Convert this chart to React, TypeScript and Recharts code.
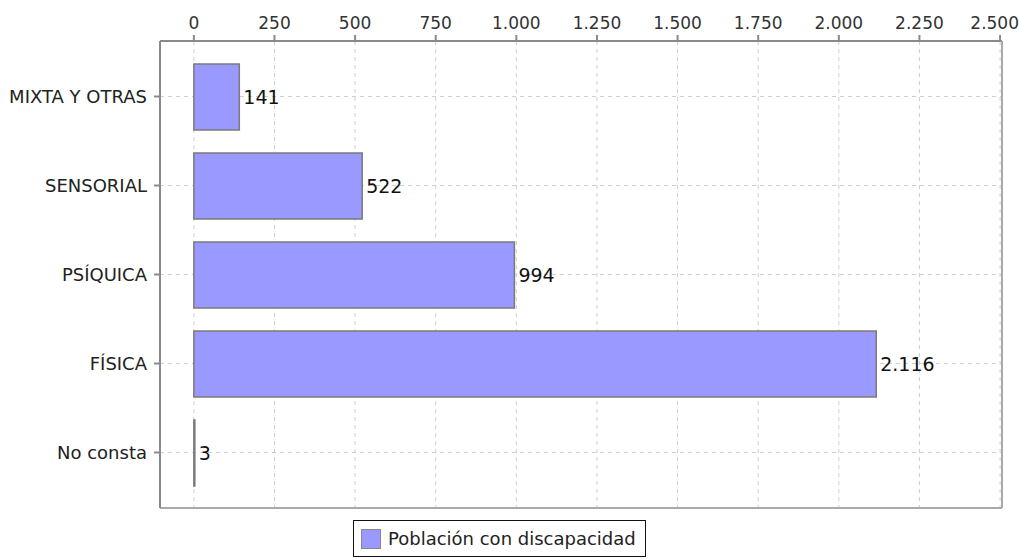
import React from "react";
import {
  BarChart,
  Bar,
  XAxis,
  YAxis,
  CartesianGrid,
  LabelList,
} from "recharts";

const categories = ["MIXTA Y OTRAS", "SENSORIAL", "PSÍQUICA", "FÍSICA", "No consta"];
const poblacion = [141, 522, 994, 2116, 3];
const xTicks = [0, 250, 500, 750, 1000, 1250, 1500, 1750, 2000, 2250, 2500];
const seriesName = "Población con discapacidad";

const data = categories.map((name, i) => ({ name, value: poblacion[i] }));

// thousands separator with a dot, like the original
const fmt = (v: number) => String(v).replace(/\B(?=(\d{3})+(?!\d))/g, ".");

const FONT = "'DejaVu Sans', sans-serif";

function LegendBox() {
  return (
    <div
      style={{
        position: "absolute",
        left: 353,
        top: 520,
        display: "flex",
        alignItems: "center",
        whiteSpace: "nowrap",
        border: "1.5px solid #111",
        padding: "0 8px 0 7px",
        height: 37,
        width: 293,
        boxSizing: "border-box",
        background: "#fff",
        fontFamily: FONT,
        fontSize: 18,
        color: "#222",
      }}
    >
      <span
        style={{
          width: 18,
          height: 18,
          background: "#9999ff",
          border: "1px solid #888",
          marginRight: 7,
          display: "inline-block",
          flex: "none",
        }}
      />
      {seriesName}
    </div>
  );
}

export default function App() {
  return (
    <div style={{ position: "absolute", left: 0, top: 0, width: 1019, height: 559, background: "#fff" }}>
      <BarChart
        width={1019}
        height={559}
        data={data}
        layout="vertical"
        margin={{ top: 0, right: 16, bottom: 50, left: 0 }}
        barSize={66}
      >
        <CartesianGrid stroke="#cfcfcf" strokeDasharray="4 4" />
        <XAxis
          type="number"
          orientation="top"
          domain={[-105, 2506]}
          ticks={xTicks}
          tickFormatter={fmt}
          allowDataOverflow
          height={41}
          stroke="#8a8a8a"
          strokeWidth={2}
          tickSize={6}
          tickMargin={6}
          tick={{ fill: "#333", fontSize: 17, fontFamily: FONT }}
        />
        <XAxis
          xAxisId="bottom"
          type="number"
          orientation="bottom"
          height={1}
          tick={false}
          tickLine={false}
          stroke="#aaaaaa"
          strokeWidth={2}
        />
        <YAxis
          type="category"
          dataKey="name"
          width={160}
          padding={{ top: 11, bottom: 11 }}
          stroke="#8a8a8a"
          strokeWidth={2}
          tickSize={6}
          tickMargin={7}
          tick={{ fill: "#222", fontSize: 18, fontFamily: FONT }}
        />
        <YAxis
          yAxisId="right"
          type="category"
          dataKey="name"
          orientation="right"
          width={1}
          tick={false}
          tickLine={false}
          stroke="#aaaaaa"
          strokeWidth={2}
        />
        <Bar
          dataKey="value"
          name={seriesName}
          fill="#9999ff"
          stroke="#7a7a7a"
          strokeWidth={1.5}
          isAnimationActive={false}
        >
          <LabelList
            dataKey="value"
            position="right"
            offset={4}
            formatter={(v: number) => fmt(v)}
            style={{ fill: "#111", fontSize: 19, fontFamily: FONT }}
          />
        </Bar>
      </BarChart>
      <LegendBox />
    </div>
  );
}
